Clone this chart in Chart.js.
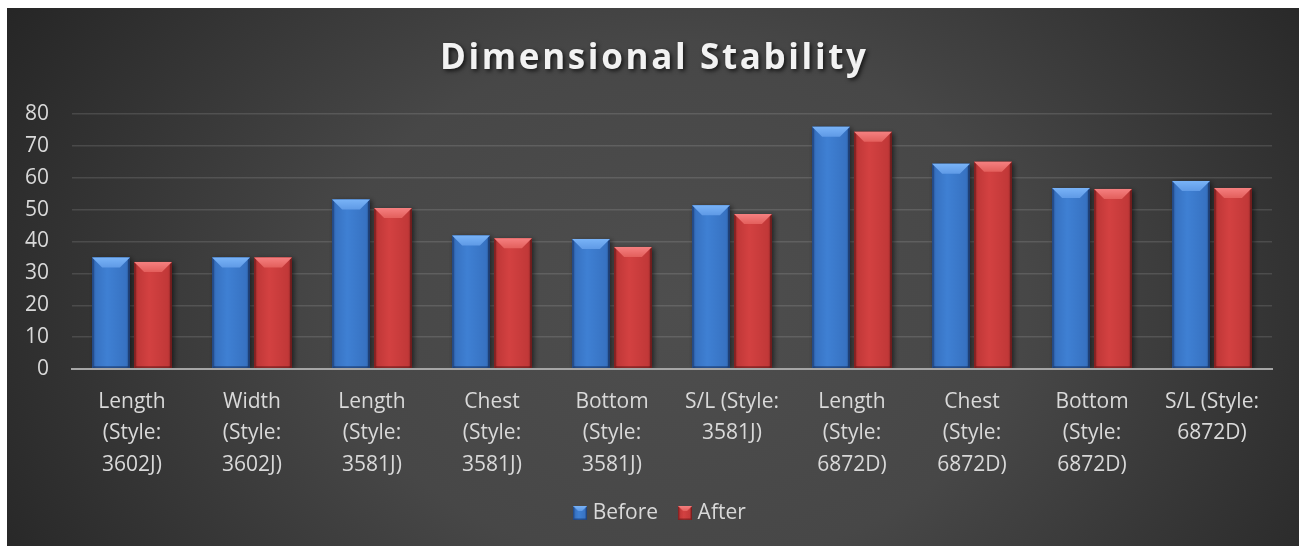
<!DOCTYPE html>
<html><head><meta charset="utf-8">
<script src="https://cdn.jsdelivr.net/npm/chart.js@4.4.1/dist/chart.umd.min.js"></script>
<style>
html,body{margin:0;padding:0;background:#fff}
#wrap{position:absolute;left:7px;top:8px;width:1292px;height:538px;background:#262626}
#c{display:block}
</style></head><body>
<div id="wrap"><canvas id="c" width="1292" height="538"></canvas></div>
<script>
// ---- data ----
const categories = [
  ["Length", "(Style:", "3602J)"],
  ["Width", "(Style:", "3602J)"],
  ["Length", "(Style:", "3581J)"],
  ["Chest", "(Style:", "3581J)"],
  ["Bottom", "(Style:", "3581J)"],
  ["S/L (Style:", "3581J)"],
  ["Length", "(Style:", "6872D)"],
  ["Chest", "(Style:", "6872D)"],
  ["Bottom", "(Style:", "6872D)"],
  ["S/L (Style:", "6872D)"]
];
const beforeValues = [35.0, 35.0, 53.2, 41.9, 40.8, 51.4, 76.0, 64.4, 56.8, 59.0];
const afterValues  = [33.6, 35.0, 50.5, 41.0, 38.3, 48.6, 74.4, 65.0, 56.5, 56.8];
const seriesNames = ["Before", "After"];
const yTicks = [0, 10, 20, 30, 40, 50, 60, 70, 80];
const titleText = "Dimensional Stability";

// ---- styles ----
const FONT = "'Open Sans', 'Noto Sans', sans-serif";
const palettes = [
  {dark:'#2b5899', mid:'#3772c2', light:'#3f80d3', top1:'#79b3f7', top2:'#5f9ae6', edgeL:'rgba(20,40,90,0.35)', edgeR:'rgba(10,25,60,0.45)'},
  {dark:'#952a2a', mid:'#c13838', light:'#d34141', top1:'#f58080', top2:'#e35f5c', edgeL:'rgba(90,15,15,0.35)', edgeR:'rgba(60,10,10,0.45)'}
];

function drawBevelBar(ctx, l, t, r, b, p, bevel, shadow) {
  const w = r - l, h = b - t;
  if (w <= 0 || h <= 0) return;
  ctx.save();
  if (shadow) {
    ctx.shadowColor = 'rgba(0,0,0,0.55)';
    ctx.shadowBlur = 5; ctx.shadowOffsetX = 2; ctx.shadowOffsetY = 1;
  }
  const g = ctx.createLinearGradient(l, 0, r, 0);
  g.addColorStop(0, p.dark); g.addColorStop(0.1, p.mid);
  g.addColorStop(0.4, p.light); g.addColorStop(0.9, p.mid); g.addColorStop(1, p.dark);
  ctx.fillStyle = g;
  ctx.fillRect(l, t, w, h);
  ctx.restore();
  const d = Math.min(bevel, h / 2, w / 2);
  const s = Math.max(1.5, d / 5);
  ctx.save();
  ctx.beginPath(); ctx.moveTo(l, t); ctx.lineTo(l + s, t + s); ctx.lineTo(l + s, b - s); ctx.lineTo(l, b); ctx.closePath();
  ctx.fillStyle = p.edgeL; ctx.fill();
  ctx.beginPath(); ctx.moveTo(r, t); ctx.lineTo(r - s, t + s); ctx.lineTo(r - s, b - s); ctx.lineTo(r, b); ctx.closePath();
  ctx.fillStyle = p.edgeR; ctx.fill();
  ctx.beginPath(); ctx.moveTo(l, b); ctx.lineTo(l + s, b - s); ctx.lineTo(r - s, b - s); ctx.lineTo(r, b); ctx.closePath();
  ctx.fillStyle = p.edgeR; ctx.fill();
  ctx.beginPath(); ctx.moveTo(l, t); ctx.lineTo(r, t); ctx.lineTo(r - d, t + d); ctx.lineTo(l + d, t + d); ctx.closePath();
  const tg = ctx.createLinearGradient(0, t, 0, t + d);
  tg.addColorStop(0, p.top1); tg.addColorStop(1, p.top2);
  ctx.fillStyle = tg; ctx.fill();
  ctx.restore();
}

function legendIcon(p) {
  const cv = document.createElement('canvas');
  cv.width = 14; cv.height = 14;
  drawBevelBar(cv.getContext('2d'), 0, 0, 14, 14, p, 5, false);
  return cv;
}
const icons = palettes.map(legendIcon);

const bgPlugin = {
  id: 'bg',
  beforeDraw(chart) {
    const {ctx, width, height} = chart;
    ctx.save();
    ctx.translate(width * 0.52, height * 0.55);
    ctx.scale(1, 0.75);
    const R = width * 0.6;
    const g = ctx.createRadialGradient(0, 0, 0, 0, 0, R);
    g.addColorStop(0, '#4e4e4e');
    g.addColorStop(0.45, '#474747');
    g.addColorStop(1, '#262626');
    ctx.fillStyle = g;
    ctx.fillRect(-width, -height * 2, width * 3, height * 4);
    ctx.restore();
  }
};

const bevelPlugin = {
  id: 'bevel',
  afterDatasetsDraw(chart) {
    const ctx = chart.ctx;
    ctx.save();
    const ca = chart.chartArea;
    ctx.beginPath(); ctx.rect(ca.left - 5, ca.top - 5, ca.right - ca.left + 10, ca.bottom - ca.top + 4); ctx.clip();
    chart.data.datasets.forEach((ds, di) => {
      const meta = chart.getDatasetMeta(di);
      meta.data.forEach(el => {
        const {x, y, base, width} = el.getProps(['x', 'y', 'base', 'width'], true);
        drawBevelBar(ctx, x - width / 2, y, x + width / 2, base, palettes[di], 10, true);
      });
    });
    ctx.restore();
    ctx.save();
    ctx.strokeStyle = '#a6a6a6'; ctx.lineWidth = 2;
    ctx.beginPath(); ctx.moveTo(ca.left, ca.bottom); ctx.lineTo(ca.right, ca.bottom); ctx.stroke();
    ctx.restore();
  }
};

const chart = new Chart(document.getElementById('c'), {
  type: 'bar',
  data: {
    labels: categories,
    datasets: [
      {label: seriesNames[0], data: beforeValues, backgroundColor: '#3c7cd0'},
      {label: seriesNames[1], data: afterValues, backgroundColor: '#cc3d3d'}
    ]
  },
  options: {
    responsive: false,
    animation: false,
    events: [],
    datasets: {bar: {categoryPercentage: 0.7, barPercentage: 0.9}},
    layout: {padding: {top: 0, left: 0, right: 0, bottom: 12.5}},
    plugins: {
      title: {
        display: true,
        text: titleText,
        color: '#f2f2f2',
        font: {family: FONT, size: 35, weight: 'bold', lineHeight: 1.2},
        padding: {top: 30, bottom: 34}
      },
      legend: {
        display: true,
        position: 'bottom',
        labels: {
          color: '#d9d9d9',
          font: {family: FONT, size: 21},
          usePointStyle: true,
          boxWidth: 4,
          boxHeight: 14,
          padding: 25,
          generateLabels(chart) {
            return Chart.defaults.plugins.legend.labels.generateLabels(chart)
              .map((l, i) => Object.assign(l, {pointStyle: icons[i]}));
          }
        }
      },
      tooltip: {enabled: false}
    },
    scales: {
      x: {
        grid: {display: false, drawTicks: false},
        border: {display: true, color: '#a6a6a6', width: 2},
        ticks: {color: '#d9d9d9', font: {family: FONT, size: 21, lineHeight: 1.5}, padding: 17, maxRotation: 0, autoSkip: false},
        afterFit(s) { s.height = 108.5; }
      },
      y: {
        min: 0, max: 80,
        afterBuildTicks(s) { s.ticks = yTicks.map(v => ({value: v})); },
        grid: {
          drawTicks: false,
          color: c => (c.tick && c.tick.value === 0) ? 'rgba(0,0,0,0)' : 'rgba(255,255,255,0.12)',
          lineWidth: 1.5
        },
        border: {display: false},
        ticks: {color: '#d9d9d9', font: {family: FONT, size: 21}, padding: 23},
        afterFit(s) { s.width = 65; }
      },
      yRight: {
        position: 'right',
        min: 0, max: 80,
        grid: {display: false, drawTicks: false},
        border: {display: false},
        ticks: {display: false},
        afterFit(s) { s.width = 27; }
      }
    }
  },
  plugins: [bgPlugin, bevelPlugin]
});

// title letter-spacing and shadow; small legend nudge
(function () {
  const ctx = chart.ctx;
  const tb = chart.titleBlock;
  const origTitle = tb.draw.bind(tb);
  ctx.save();
  ctx.font = "bold 35px " + FONT;
  const w = ctx.measureText(titleText).width;
  ctx.restore();
  const ls = Math.max(0, (426 - w) / (titleText.length - 1));
  tb.draw = function () {
    ctx.save();
    ctx.letterSpacing = ls.toFixed(2) + 'px';
    ctx.shadowColor = 'rgba(0,0,0,0.7)';
    ctx.shadowBlur = 4; ctx.shadowOffsetX = 2; ctx.shadowOffsetY = 2;
    ctx.translate(ls / 2, 0);
    origTitle();
    ctx.restore();
  };
  const lg = chart.legend;
  const origLegend = lg.draw.bind(lg);
  lg.draw = function () {
    ctx.save();
    ctx.translate(9, 0);
    origLegend();
    ctx.restore();
  };
  chart.draw();
})();
</script>
</body></html>
